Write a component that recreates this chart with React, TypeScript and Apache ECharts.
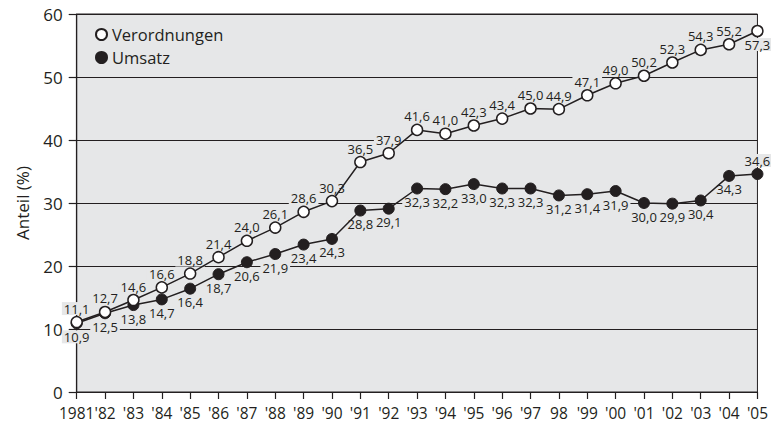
import React, { useEffect, useRef } from "react";
import * as echarts from "echarts";

const categories = ["1981", "'82", "'83", "'84", "'85", "'86", "'87", "'88", "'89", "'90", "'91", "'92", "'93", "'94", "'95", "'96", "'97", "98", "'99", "'00", "'01", "'02", "'03", "'04", "'05"];
const verordnungen = [11.1, 12.7, 14.6, 16.6, 18.8, 21.4, 24.0, 26.1, 28.6, 30.3, 36.5, 37.9, 41.6, 41.0, 42.3, 43.4, 45.0, 44.9, 47.1, 49.0, 50.2, 52.3, 54.3, 55.2, 57.3];
const umsatz = [10.9, 12.5, 13.8, 14.7, 16.4, 18.7, 20.6, 21.9, 23.4, 24.3, 28.8, 29.1, 32.3, 32.2, 33.0, 32.3, 32.3, 31.2, 31.4, 31.9, 30.0, 29.9, 30.4, 34.3, 34.6];
const verLabelPos = ["top", "top", "top", "top", "top", "top", "top", "top", "top", "top", "top", "top", "top", "top", "top", "top", "top", "top", "top", "top", "top", "top", "top", "top", "bottom"];
const umsLabelPos = ["bottom", "bottom", "bottom", "bottom", "bottom", "bottom", "bottom", "bottom", "bottom", "bottom", "bottom", "bottom", "bottom", "bottom", "bottom", "bottom", "bottom", "bottom", "bottom", "bottom", "bottom", "bottom", "bottom", "bottom", "top"];

const FONT = "'Open Sans', 'Noto Sans', sans-serif";
const BG = "#e6e7e8";
const INK = "#231f20";

const fmt = (v: number) => v.toFixed(1).replace(".", ",");

export default function App() {
  const ref = useRef<HTMLDivElement>(null);
  useEffect(() => {
    if (!ref.current) return;
    const chart = echarts.init(ref.current, undefined, { renderer: "svg" });
    const labelData = (vals: number[], pos: string[]) =>
      vals.map((v, i) => ({
        value: v,
        label: { position: pos[i] },
      }));
    const labelSeries = (name: string, vals: number[], pos: string[]) => ({
      name,
      type: "line",
      data: labelData(vals, pos),
      z: 1,
      symbol: "circle",
      symbolSize: 10,
      itemStyle: { color: "rgba(0,0,0,0)", borderWidth: 0 },
      lineStyle: { width: 0, opacity: 0 },
      silent: true,
      label: {
        show: true,
        formatter: (p: any) => fmt(p.value),
        fontFamily: FONT,
        fontSize: 13,
        color: INK,
        backgroundColor: BG,
        padding: [0, 2],
        distance: 2,
      },
    });
    chart.setOption({
      animation: false,
      textStyle: { fontFamily: FONT },
      grid: {
        left: 76.7,
        right: 13,
        top: 14,
        bottom: 35,
        show: true,
        backgroundColor: BG,
        borderColor: INK,
        borderWidth: 1,
      },
      legend: {
        left: 90,
        top: 21,
        orient: "vertical",
        itemWidth: 11,
        itemHeight: 11,
        itemGap: 6,
        textStyle: { fontFamily: FONT, fontSize: 16.5, color: INK },
        data: [
          { name: "Verordnungen", icon: "circle" },
          { name: "Umsatz", icon: "circle" },
        ],
      },
      xAxis: {
        type: "category",
        data: categories,
        boundaryGap: false,
        axisLine: { lineStyle: { color: INK, width: 1.2 } },
        axisTick: { show: true, length: 7, alignWithLabel: true, lineStyle: { color: INK, width: 1.2 } },
        axisLabel: { fontFamily: FONT, fontSize: 15.5, color: INK, margin: 13, interval: 0 },
        splitLine: { show: false },
      },
      yAxis: {
        type: "value",
        min: 0,
        max: 60,
        interval: 10,
        name: "Anteil (%)",
        nameLocation: "middle",
        nameGap: 46,
        nameTextStyle: { fontFamily: FONT, fontSize: 17, color: INK },
        axisLine: { show: true, lineStyle: { color: INK, width: 1.2 } },
        axisTick: { show: true, length: 8, lineStyle: { color: INK, width: 1.2 } },
        axisLabel: { fontFamily: FONT, fontSize: 17, color: INK, margin: 14 },
        splitLine: { show: true, lineStyle: { color: INK, width: 1 } },
      },
      series: [
        labelSeries("Verordnungen-label", verordnungen, verLabelPos),
        labelSeries("Umsatz-label", umsatz, umsLabelPos),
        {
          name: "Umsatz",
          type: "line",
          data: umsatz,
          z: 3,
          symbol: "circle",
          symbolSize: 11,
          itemStyle: { color: INK, borderColor: INK, borderWidth: 1 },
          lineStyle: { color: INK, width: 1.5 },
        },
        {
          name: "Verordnungen",
          type: "line",
          data: verordnungen,
          z: 4,
          symbol: "circle",
          symbolSize: 11,
          itemStyle: { color: "#ffffff", borderColor: INK, borderWidth: 1.5 },
          lineStyle: { color: INK, width: 1.5 },
        },
      ],
    });
    return () => chart.dispose();
  }, []);
  return <div ref={ref} style={{ width: 771, height: 427, position: "absolute", left: 0, top: 0 }} />;
}
